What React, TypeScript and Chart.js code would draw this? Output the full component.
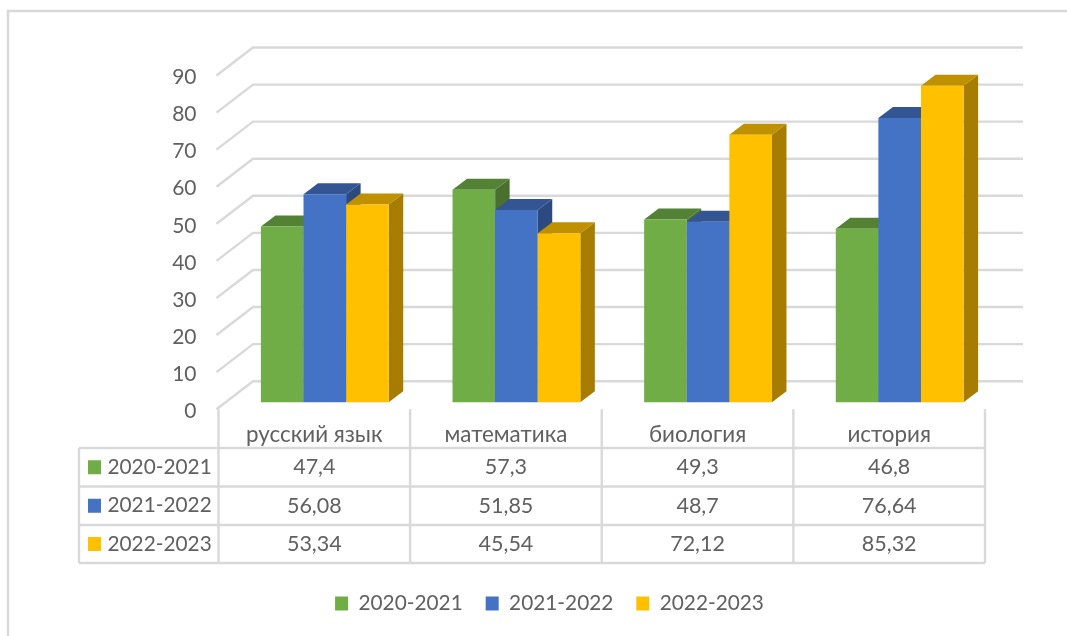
import React, { useEffect, useRef } from "react";
import { Chart, registerables } from "chart.js";

Chart.register(...registerables);

const categories = ["русский язык", "математика", "биология", "история"];
const seriesNames = ["2020-2021", "2021-2022", "2022-2023"];
const values2020 = [47.4, 57.3, 49.3, 46.8];
const values2021 = [56.08, 51.85, 48.7, 76.64];
const values2022 = [53.34, 45.54, 72.12, 85.32];
const yTicks = [0, 10, 20, 30, 40, 50, 60, 70, 80, 90];

const frontColors = ["#70ad47", "#4472c4", "#ffc000"];
const topColors = ["#548235", "#335593", "#bf9000"];
const sideColors = ["#49702e", "#2c4a80", "#a67d00"];
const FONT = "Lato, 'Open Sans', sans-serif";
const TEXT = "#606060";
const LINE = "#d9d9d9";

const fmt = (v: number) => String(v).replace(".", ",");

const scene = {
  id: "scene",
  beforeDraw(chart: any) {
    const { ctx } = chart;
    ctx.save();
    ctx.strokeStyle = LINE;
    ctx.lineWidth = 2.5;
    ctx.beginPath();
    ctx.moveTo(8, 636);
    ctx.lineTo(8, 11);
    ctx.lineTo(1067, 11);
    ctx.stroke();
    // gridlines: side wall and back wall
    const { left, right } = chart.chartArea;
    const y = chart.scales.y;
    ctx.strokeStyle = LINE;
    ctx.lineWidth = 2.4;
    yTicks.forEach((t) => {
      const py = y.getPixelForValue(t);
      ctx.beginPath();
      ctx.moveTo(left - 2, py);
      ctx.lineTo(left + 34.5, py - 28);
      ctx.lineTo(right + 38, py - 28);
      ctx.stroke();
    });
    ctx.restore();
  },
  beforeDatasetDraw() {
    return false;
  },
  afterDatasetsDraw(chart: any) {
    const { ctx } = chart;
    ctx.save();
    ctx.translate(10.5, -7);
    const dx = 14.5;
    const dy = -11;
    chart.data.datasets.forEach((_: any, d: number) => {
      chart.getDatasetMeta(d).data.forEach((bar: any) => {
        const x0 = bar.x - bar.width / 2;
        const x1 = bar.x + bar.width / 2;
        const top = bar.y;
        const base = bar.base;
        ctx.fillStyle = sideColors[d];
        ctx.beginPath();
        ctx.moveTo(x1, top);
        ctx.lineTo(x1 + dx, top + dy);
        ctx.lineTo(x1 + dx, base + dy);
        ctx.lineTo(x1, base);
        ctx.closePath();
        ctx.fill();
        ctx.fillStyle = topColors[d];
        ctx.beginPath();
        ctx.moveTo(x0, top);
        ctx.lineTo(x0 + dx, top + dy);
        ctx.lineTo(x1 + dx, top + dy);
        ctx.lineTo(x1, top);
        ctx.closePath();
        ctx.fill();
        bar.draw(ctx);
      });
    });
    ctx.restore();
  },
  afterDraw(chart: any) {
    const { ctx } = chart;
    const { left, right, bottom } = chart.chartArea;
    const step = (right - left) / categories.length;
    const rows = [448, 486.5, 525, 563];
    const tableLeft = 79;
    ctx.save();
    ctx.strokeStyle = LINE;
    ctx.lineWidth = 2.4;
    rows.forEach((r) => {
      ctx.beginPath();
      ctx.moveTo(tableLeft, r);
      ctx.lineTo(right, r);
      ctx.stroke();
    });
    ctx.beginPath();
    ctx.moveTo(tableLeft, rows[0]);
    ctx.lineTo(tableLeft, rows[3]);
    ctx.stroke();
    for (let i = 0; i <= categories.length; i++) {
      ctx.beginPath();
      ctx.moveTo(left + i * step, bottom);
      ctx.lineTo(left + i * step, rows[3]);
      ctx.stroke();
    }
    ctx.fillStyle = TEXT;
    ctx.textBaseline = "middle";
    chart.data.datasets.forEach((ds: any, d: number) => {
      const cy = (rows[d] + rows[d + 1]) / 2;
      ctx.fillStyle = frontColors[d];
      ctx.fillRect(88, cy - 7, 13, 14);
      ctx.fillStyle = TEXT;
      ctx.textAlign = "left";
      ctx.font = `20.8px ${FONT}`;
      ctx.fillText(ds.label, 107.5, cy);
      ctx.textAlign = "center";
      ctx.font = `21.5px ${FONT}`;
      ds.data.forEach((v: number, i: number) => {
        ctx.fillText(fmt(v), left + (i + 0.5) * step, cy);
      });
    });
    ctx.restore();
  },
};

export default function App() {
  const ref = useRef<HTMLCanvasElement>(null);
  useEffect(() => {
    const chart = new Chart(ref.current as HTMLCanvasElement, {
      type: "bar",
      plugins: [scene],
      data: {
        labels: categories,
        datasets: [values2020, values2021, values2022].map((data, i) => ({
          label: seriesNames[i],
          data,
          backgroundColor: frontColors[i],
          borderWidth: 0,
          barPercentage: 1,
          categoryPercentage: 0.667,
        })),
      },
      options: {
        responsive: false,
        animation: false,
        devicePixelRatio: 1,
        layout: { padding: { left: 114, right: 82, top: 75.5, bottom: 12 } },
        plugins: {
          tooltip: { enabled: false },
          legend: {
            position: "bottom",
            labels: {
              boxWidth: 13,
              boxHeight: 14,
              padding: 23,
              color: TEXT,
              font: { family: FONT, size: 20.8 },
            },
          },
        },
        scales: {
          x: {
            grid: { display: false, drawTicks: false },
            border: { display: false },
            ticks: {
              color: TEXT,
              font: { family: FONT, size: 22.4 },
              padding: 12,
              maxRotation: 0,
            },
            afterFit: (s: any) => {
              s.height = 161;
            },
          },
          y: {
            min: 0,
            max: 90,
            grid: { display: false, drawTicks: false },
            border: { display: false },
            ticks: {
              stepSize: 10,
              color: TEXT,
              font: { family: FONT, size: 21 },
              padding: 22,
              labelOffset: 2,
            },
            afterFit: (s: any) => {
              s.width = 104.5;
            },
          },
        },
      },
    } as any);
    return () => chart.destroy();
  }, []);
  return (
    <div style={{ position: "absolute", left: 0, top: 0, width: 1067, height: 636, background: "#fff", overflow: "hidden" }}>
      <canvas ref={ref} width={1067} height={636} style={{ display: "block" }} />
    </div>
  );
}
